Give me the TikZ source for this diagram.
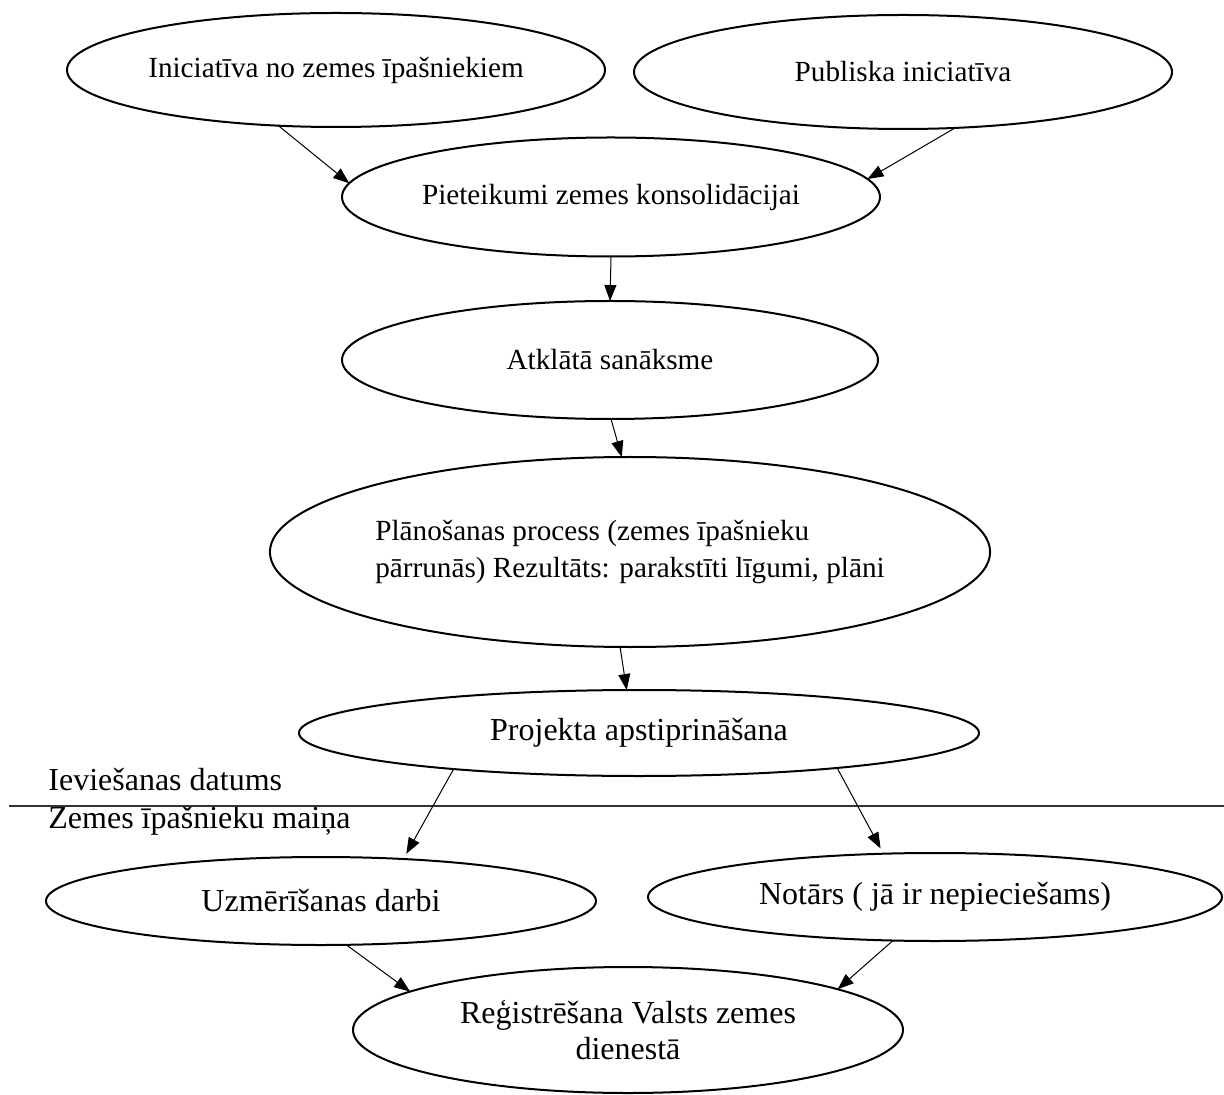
\documentclass[tikz,border=0pt]{standalone}
\usepackage{fontspec}
\setmainfont{Liberation Serif}
\usetikzlibrary{shapes.geometric,arrows.meta}
\begin{document}
\begin{tikzpicture}[x=0.5pt,y=-0.5pt,
  ell/.style={ellipse,draw,line width=1pt,inner sep=0pt,outer sep=0pt},
  fa/.style={font=\fontsize{14.6pt}{18.5pt}\selectfont},
  fb/.style={font=\fontsize{16pt}{18pt}\selectfont},
  arr/.style={-{Triangle[length=8pt,width=6pt]},line width=0.5pt},
  lbl/.style={fb,anchor=base west,inner sep=0pt}]
\useasboundingbox (0,0) rectangle (1224,1095);
\node[ell,fa,minimum width=269pt,minimum height=57pt] (e1) at (336,70) {Iniciatīva no zemes īpašniekiem};
\node[ell,fa,minimum width=269pt,minimum height=57pt] (e2) at (903,72) {Publiska iniciatīva};
\node[ell,fa,minimum width=269pt,minimum height=59.5pt] (e3) at (611,197) {Pieteikumi zemes konsolidācijai};
\node[ell,fa,minimum width=268pt,minimum height=59pt] (e4) at (610,360) {Atklātā sanāksme};
\node[ell,fa,align=left,minimum width=341pt,minimum height=95pt] (e5) at (630,552) {Plānošanas process (zemes īpašnieku\\pārrunās) Rezultāts: parakstīti līgumi, plāni};
\node[ell,fb,minimum width=340pt,minimum height=43pt] (e6) at (639,733) {Projekta apstiprināšana};
\node[ell,fb,minimum width=275pt,minimum height=44pt] (e7) at (321,901) {Uzmērīšanas darbi};
\node[ell,fb,minimum width=287pt,minimum height=44pt] (e8) at (935,897) {Notārs ( jā ir nepieciešams)};
\node[ell,fb,align=center,minimum width=275pt,minimum height=63pt] (e9) at (628,1030) {Reģistrēšana Valsts zemes\\dienestā};
\node[lbl] (t1) at (48,790) {Ieviešanas datums};
\node[lbl] (t2) at (48,828) {Zemes īpašnieku maiņa};
\coordinate (l1) at (9,806);
\coordinate (l2) at (1224,806);
\draw[line width=0.6pt,black!80] (l1) -- (l2);
\draw[arr] (e1.-136) -- (e3.177);
\draw[arr] (e2.-47) -- (e3.4);
\draw[arr] (e3.-90) -- (e4.90);
\draw[arr] (e4.-89) -- (e5.95);
\draw[arr] (e5.-96) -- (e6.106);
\draw[arr,shorten >=3pt] (e6.-169) -- (e7.27);
\draw[arr,shorten >=3pt] (e6.-10) -- (e8.140);
\draw[arr] (e7.-60) -- (e9.170);
\draw[arr] (e8.-134) -- (e9.11);
\end{tikzpicture}
\end{document}
